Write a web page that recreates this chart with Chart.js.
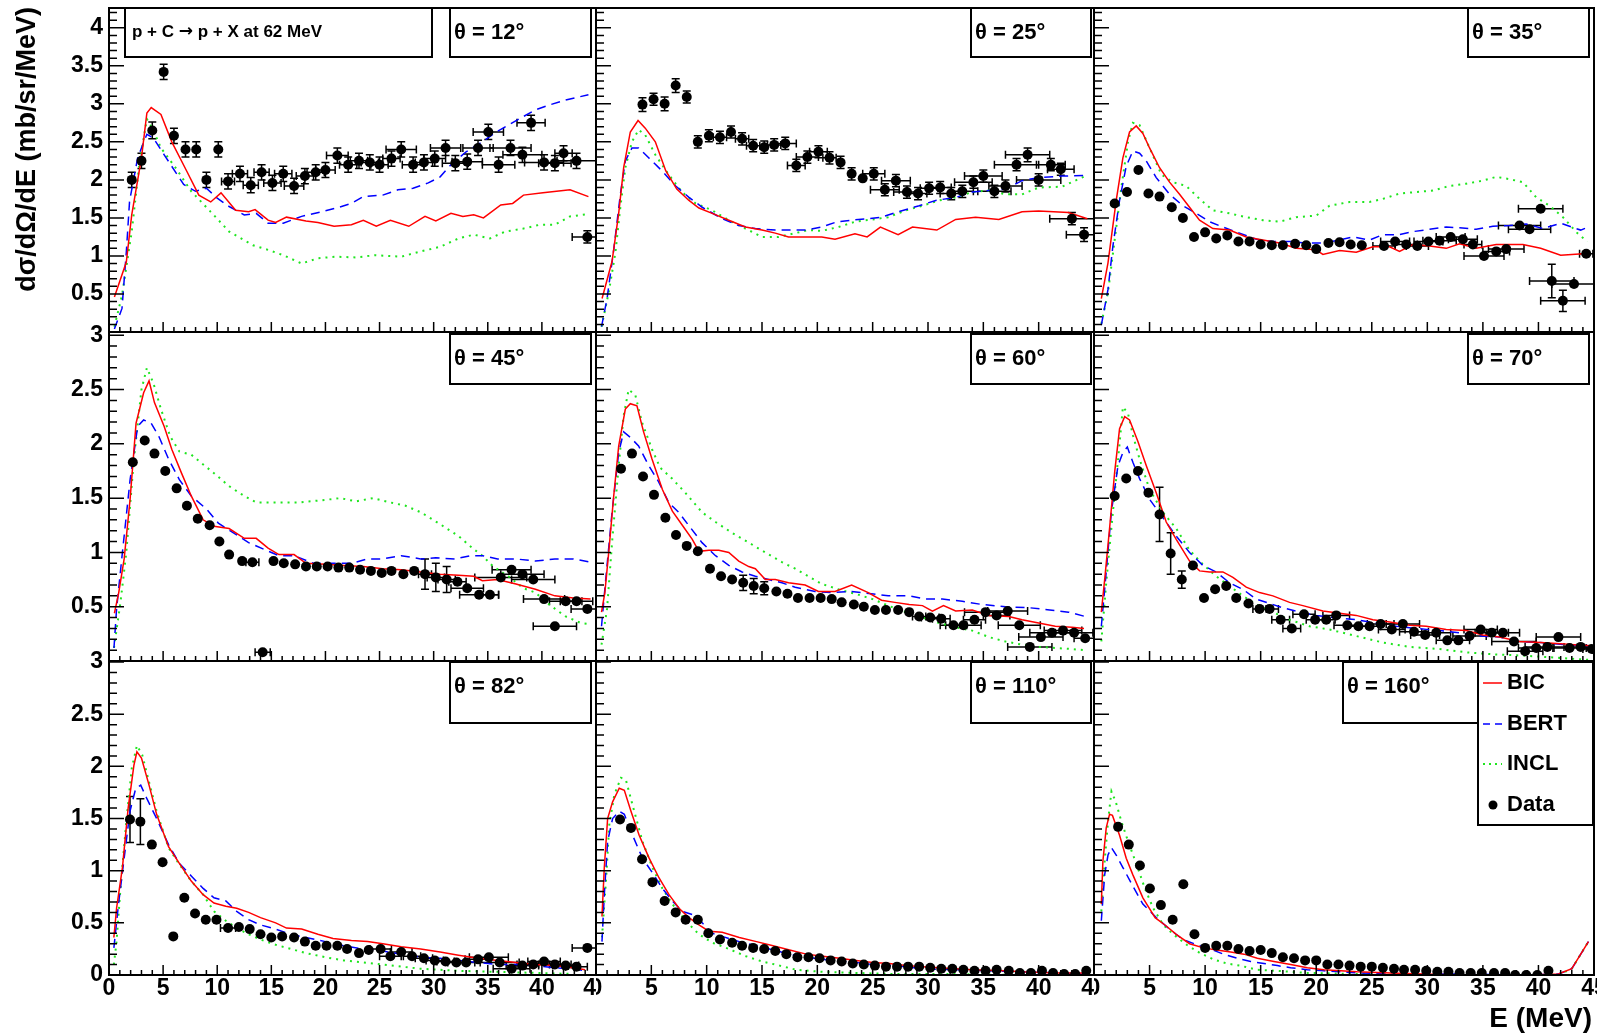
<!DOCTYPE html>
<html>
<head>
<meta charset="utf-8">
<script src="https://cdn.jsdelivr.net/npm/chart.js@4.4.1/dist/chart.umd.min.js"></script>
<style>
  html, body { margin: 0; padding: 0; background: #fff; }
  #page { position: relative; width: 1597px; height: 1033px; overflow: hidden; background: #fff; }
  #page canvas { position: absolute; }
</style>
</head>
<body>
<div id="page"></div>
<script>
// ---- values: [E, value] for model curves, [E, value, xErr, yErr] for data ----
const thetaLabels = ['θ = 12°', 'θ = 25°', 'θ = 35°', 'θ = 45°', 'θ = 60°', 'θ = 70°', 'θ = 82°', 'θ = 110°', 'θ = 160°'];
const seriesNames = ['BIC', 'BERT', 'INCL', 'Data'];
const yMaxByRow = [4.26, 3.03, 3.01];
const eRange = [0, 45];

const bic12 = [[0.5,0.46],[1.6,0.92],[2.1,1.54],[3.0,2.29],[3.5,2.88],[3.9,2.95],[4.8,2.86],[5.8,2.5],[7.2,2.11],[8.3,1.8],[9.4,1.71],[10.35,1.83],[11.7,1.6],[12.9,1.58],[13.5,1.61],[14.7,1.47],[15.4,1.44],[16.4,1.51],[18.2,1.46],[19.3,1.44],[20.8,1.39],[22.4,1.41],[23.5,1.47],[24.7,1.39],[26.0,1.47],[27.7,1.39],[29.2,1.52],[30.2,1.46],[31.6,1.56],[32.7,1.52],[33.7,1.54],[34.6,1.5],[36.2,1.67],[37.3,1.69],[38.3,1.8],[40.1,1.83],[42.6,1.87],[44.3,1.78]];
const bert12 = [[0.5,0.04],[1.2,0.31],[1.6,1.05],[1.9,1.72],[2.65,2.29],[3.5,2.6],[4.1,2.55],[5.1,2.33],[6.9,1.94],[8.0,1.85],[9.0,1.89],[10.0,1.76],[11.1,1.65],[12.5,1.54],[13.6,1.56],[14.7,1.43],[16.1,1.43],[17.8,1.52],[19.6,1.58],[21.0,1.63],[22.4,1.69],[23.5,1.78],[25.3,1.8],[26.7,1.87],[28.1,1.89],[29.5,1.96],[30.6,2.04],[31.6,2.2],[33.0,2.37],[34.5,2.5],[35.9,2.64],[37.5,2.77],[39.4,2.92],[40.8,2.99],[42.2,3.05],[44.3,3.12]];
const incl12 = [[0.5,0.07],[1.2,0.48],[2.1,1.32],[2.8,2.2],[3.5,2.8],[4.0,2.68],[4.8,2.42],[6.2,2.15],[7.6,1.85],[9.4,1.58],[11.1,1.32],[13.3,1.14],[14.7,1.08],[16.1,1.01],[17.8,0.9],[19.3,0.97],[21.0,0.99],[22.8,0.98],[24.6,1.01],[27.0,0.99],[28.8,1.06],[30.6,1.12],[32.3,1.23],[33.7,1.28],[35.2,1.23],[36.6,1.32],[38.3,1.36],[39.8,1.41],[41.2,1.41],[42.6,1.52],[44.3,1.55]];
const data12 = [[2.1,2.0,0.5,0.1],[3.0,2.25,0.5,0.1],[4.0,2.65,0.5,0.11],[5.05,3.42,0.5,0.1],[6.0,2.58,0.5,0.1],[7.07,2.4,0.5,0.1],[8.06,2.4,0.5,0.1],[9.0,2.0,0.5,0.1],[10.1,2.4,0.5,0.1],[11.0,1.98,0.6,0.1],[12.1,2.08,0.7,0.1],[13.1,1.93,0.7,0.1],[14.1,2.1,0.7,0.1],[15.1,1.96,0.8,0.1],[16.1,2.08,0.8,0.1],[17.1,1.92,0.9,0.1],[18.1,2.05,0.8,0.1],[19.1,2.1,0.8,0.1],[20.0,2.13,0.9,0.1],[21.1,2.32,1.0,0.1],[22.1,2.2,0.8,0.1],[23.1,2.25,0.8,0.1],[24.1,2.23,0.8,0.1],[25.0,2.2,0.8,0.1],[26.1,2.28,0.8,0.1],[27.0,2.4,1.4,0.1],[28.1,2.2,1.0,0.1],[29.1,2.23,0.8,0.1],[30.1,2.28,1.0,0.1],[31.1,2.42,1.4,0.1],[32.0,2.22,1.2,0.1],[33.1,2.24,1.4,0.1],[34.1,2.42,1.4,0.1],[35.05,2.63,1.4,0.1],[36.0,2.2,1.5,0.1],[37.1,2.42,1.9,0.1],[38.2,2.33,1.8,0.1],[39.0,2.75,1.3,0.1],[40.2,2.23,1.8,0.1],[41.2,2.22,1.5,0.1],[42.0,2.35,0.8,0.1],[43.2,2.25,1.8,0.1],[44.2,1.25,1.4,0.08]];

const bic25 = [[0.55,0.44],[1.45,0.93],[2.05,1.56],[2.5,2.16],[3.1,2.63],[3.8,2.78],[4.45,2.68],[5.36,2.5],[6.3,2.12],[7.3,1.88],[8.4,1.73],[9.3,1.63],[10.5,1.56],[12.0,1.47],[13.5,1.38],[15.0,1.34],[16.2,1.3],[17.4,1.25],[18.9,1.25],[20.4,1.25],[21.6,1.22],[23.4,1.29],[24.5,1.25],[25.7,1.38],[27.3,1.28],[28.6,1.38],[30.8,1.34],[32.5,1.48],[34.3,1.51],[36.4,1.48],[38.5,1.58],[40.0,1.59],[42.7,1.57],[44.4,1.49]];
const bert25 = [[0.5,0.07],[1.0,0.44],[1.6,1.08],[2.2,1.81],[2.65,2.25],[3.25,2.42],[3.85,2.42],[4.76,2.29],[5.96,2.12],[7.2,1.92],[8.4,1.77],[9.6,1.64],[11.4,1.49],[12.9,1.4],[14.4,1.36],[16.2,1.34],[17.7,1.34],[18.9,1.34],[20.4,1.38],[21.8,1.45],[23.1,1.47],[24.6,1.49],[25.8,1.51],[27.3,1.58],[29.2,1.66],[30.7,1.73],[32.5,1.77],[34.0,1.84],[35.5,1.86],[37.0,1.88],[38.5,1.99],[40.0,2.03],[42.1,2.05],[44.2,2.06]];
const incl25 = [[0.5,0.07],[1.15,0.52],[1.75,1.04],[2.2,1.64],[2.65,2.16],[3.25,2.5],[3.85,2.66],[4.45,2.59],[5.36,2.33],[6.57,2.07],[7.77,1.84],[9.0,1.69],[10.5,1.6],[12.0,1.47],[13.5,1.36],[15.0,1.25],[16.5,1.25],[18.0,1.3],[19.2,1.34],[20.4,1.33],[21.9,1.38],[23.4,1.45],[25.0,1.48],[26.4,1.51],[28.0,1.6],[29.5,1.66],[31.0,1.73],[32.5,1.77],[34.0,1.84],[35.5,1.86],[37.0,1.81],[38.5,1.81],[40.0,1.9],[42.1,1.91],[44.2,2.05]];
const data25 = [[4.2,2.99,0.5,0.09],[5.2,3.06,0.5,0.08],[6.2,3.0,0.5,0.09],[7.2,3.24,0.5,0.09],[8.2,3.09,0.5,0.08],[9.2,2.5,0.5,0.08],[10.2,2.58,0.5,0.08],[11.2,2.56,0.6,0.08],[12.2,2.63,0.5,0.08],[13.2,2.54,0.6,0.08],[14.2,2.45,0.6,0.08],[15.2,2.43,0.5,0.08],[16.1,2.46,0.6,0.08],[17.1,2.48,1.0,0.08],[18.1,2.19,0.8,0.08],[19.1,2.3,1.0,0.08],[20.1,2.37,0.8,0.08],[21.1,2.29,0.6,0.08],[22.1,2.23,0.5,0.08],[23.1,2.08,0.5,0.08],[24.1,2.02,0.5,0.07],[25.1,2.08,1.0,0.08],[26.1,1.87,1.3,0.08],[27.1,1.99,1.3,0.08],[28.1,1.84,1.2,0.08],[29.1,1.82,0.8,0.08],[30.1,1.89,0.8,0.08],[31.1,1.9,1.0,0.08],[32.1,1.82,1.0,0.08],[33.1,1.85,1.0,0.08],[34.1,1.97,1.7,0.08],[35.0,2.05,1.7,0.08],[36.0,1.85,1.5,0.08],[37.0,1.92,1.5,0.08],[38.0,2.2,2.0,0.08],[39.0,2.33,2.0,0.09],[40.0,2.0,2.0,0.08],[41.1,2.2,1.3,0.08],[42.0,2.14,1.2,0.08],[43.0,1.49,2.0,0.08],[44.1,1.28,1.6,0.09]];

const bic35 = [[0.66,0.44],[1.26,0.91],[2.0,1.73],[2.6,2.29],[3.2,2.63],[3.8,2.71],[4.4,2.61],[5.0,2.42],[5.9,2.16],[6.8,1.97],[7.7,1.81],[8.6,1.64],[9.5,1.47],[10.7,1.36],[12.2,1.34],[13.7,1.25],[15.2,1.21],[16.7,1.17],[18.2,1.1],[20.0,1.08],[20.6,1.02],[22.1,1.07],[23.6,1.05],[25.1,1.12],[26.6,1.12],[27.5,1.06],[28.7,1.15],[30.2,1.13],[31.7,1.1],[32.9,1.16],[34.4,1.1],[36.2,1.15],[38.6,1.15],[40.2,1.1],[42.0,1.01],[44.0,1.03]];
const bert35 = [[0.66,0.09],[1.26,0.56],[1.7,1.13],[2.3,1.73],[2.9,2.18],[3.5,2.38],[4.1,2.35],[4.7,2.25],[5.6,2.03],[6.8,1.81],[8.0,1.66],[9.2,1.56],[10.4,1.45],[11.6,1.38],[13.1,1.3],[14.6,1.22],[16.1,1.19],[17.6,1.19],[19.1,1.17],[20.6,1.17],[22.1,1.21],[23.3,1.25],[24.8,1.21],[26.0,1.28],[27.5,1.28],[28.7,1.32],[30.2,1.35],[31.7,1.38],[32.9,1.37],[34.4,1.35],[35.9,1.39],[37.4,1.4],[38.9,1.42],[40.4,1.36],[42.0,1.43],[43.8,1.34],[44.5,1.38]];
const incl35 = [[0.66,0.11],[1.26,0.52],[1.86,1.21],[2.46,1.9],[3.06,2.5],[3.5,2.75],[4.1,2.72],[5.0,2.42],[6.07,2.07],[7.1,1.97],[8.3,1.92],[9.5,1.75],[10.7,1.6],[12.2,1.56],[13.7,1.51],[15.2,1.47],[16.7,1.45],[18.2,1.51],[20.0,1.53],[21.2,1.66],[23.0,1.71],[24.8,1.71],[26.0,1.75],[27.5,1.82],[29.0,1.84],[30.5,1.86],[32.0,1.92],[33.5,1.95],[35.0,1.99],[36.2,2.04],[37.4,2.01],[38.6,1.97],[39.8,1.77],[41.0,1.66],[42.2,1.51],[43.5,1.3],[44.4,1.19]];
const data35 = [[1.86,1.69],[2.97,1.84],[4.0,2.13],[4.9,1.82],[5.9,1.78],[7.0,1.64],[8.0,1.5],[9.0,1.25],[10.0,1.31],[11.0,1.23],[12.0,1.27],[13.0,1.19],[14.0,1.19],[15.0,1.15],[16.0,1.14],[17.0,1.14],[18.1,1.16],[19.1,1.14],[20.0,1.09],[21.1,1.17],[22.1,1.18],[23.1,1.15],[24.1,1.14],[26.1,1.13,1.0],[27.1,1.19,1.3],[28.1,1.15,1.0],[29.1,1.13,1.0],[30.1,1.19,1.3],[31.1,1.2,1.5],[32.1,1.25,1.3],[33.2,1.22,1.3],[34.1,1.15,0.8],[35.1,1.0,1.8],[36.2,1.06,1.2],[37.1,1.09,1.6],[38.3,1.4,1.9,0.05],[39.2,1.35,1.9],[40.2,1.62,2.0,0.06],[41.2,0.67,2.0,0.22],[42.2,0.41,2.0,0.14],[43.2,0.63,2.0],[44.3,1.03,0.6]];

const bic45 = [[0.5,0.44],[0.9,0.63],[1.4,0.94],[1.95,1.49],[2.5,2.19],[3.2,2.47],[3.7,2.58],[4.2,2.38],[5.1,2.16],[5.8,1.95],[6.7,1.73],[7.6,1.52],[8.7,1.3],[9.7,1.24],[11.1,1.22],[12.5,1.13],[13.6,1.13],[14.7,1.04],[15.7,0.98],[17.1,0.98],[18.2,0.9],[20.0,0.89],[21.7,0.88],[23.5,0.87],[25.3,0.85],[27.0,0.84],[28.8,0.82],[30.6,0.8],[32.3,0.79],[33.7,0.78],[34.5,0.74],[35.9,0.75],[37.6,0.71],[39.4,0.66],[41.2,0.6],[42.9,0.58],[44.5,0.57]];
const bert45 = [[0.46,0.12],[0.7,0.48],[1.24,1.0],[1.95,1.67],[2.65,2.16],[3.2,2.22],[3.9,2.19],[4.6,2.07],[5.5,1.86],[6.5,1.67],[7.6,1.52],[9.0,1.4],[10.1,1.27],[11.5,1.18],[12.9,1.09],[14.3,1.03],[15.7,0.97],[17.1,0.97],[18.9,0.9],[20.7,0.9],[22.4,0.9],[23.9,0.94],[25.3,0.94],[27.0,0.97],[28.8,0.94],[30.2,0.95],[32.0,0.94],[33.4,0.97],[34.5,0.97],[35.9,0.94],[37.6,0.94],[39.4,0.92],[41.2,0.94],[42.9,0.94],[44.5,0.91]];
const incl45 = [[0.46,0.12],[1.06,0.54],[1.6,1.0],[2.3,1.86],[3.0,2.5],[3.5,2.7],[4.1,2.56],[4.8,2.32],[5.65,2.07],[6.5,1.93],[7.6,1.9],[8.7,1.81],[9.7,1.73],[11.1,1.61],[12.5,1.52],[13.6,1.46],[15.4,1.46],[17.5,1.46],[19.6,1.48],[21.4,1.5],[22.8,1.47],[24.4,1.5],[26.0,1.46],[27.4,1.43],[28.8,1.37],[30.6,1.26],[32.3,1.15],[33.7,1.03],[34.5,0.97],[35.5,0.87],[36.9,0.78],[38.3,0.67],[39.4,0.63],[40.8,0.51],[42.2,0.41],[43.6,0.35],[44.5,0.34]];
const data45 = [[2.2,1.83],[3.3,2.03],[4.2,1.91],[5.2,1.75],[6.25,1.59],[7.2,1.43],[8.2,1.31],[9.3,1.25],[10.2,1.1],[11.1,0.98],[12.3,0.92],[13.25,0.91,0.6],[14.2,0.08,0.7,0.02],[15.2,0.92],[16.15,0.9],[17.2,0.89],[18.2,0.87],[19.2,0.87],[20.2,0.87],[21.2,0.86],[22.2,0.86],[23.2,0.84],[24.2,0.83],[25.2,0.81],[26.1,0.83],[27.2,0.8],[28.2,0.83],[29.2,0.8,0.6,0.14],[30.2,0.77,0.8,0.13],[31.2,0.75,0.8,0.12],[32.2,0.73,0.8],[33.1,0.67,1.5],[34.2,0.61,1.8],[35.2,0.61,0.8],[36.2,0.77,2.4],[37.2,0.84,1.8],[38.2,0.8,2.0],[39.2,0.75,2.0],[40.2,0.57,1.9],[41.2,0.32,2.0],[42.2,0.55,1.5],[43.2,0.55,1.5],[44.2,0.48,1.5]];

const bic60 = [[0.5,0.45],[0.8,0.63],[1.15,1.0],[1.6,1.52],[2.05,1.98],[2.65,2.32],[3.1,2.37],[3.7,2.35],[4.3,2.11],[5.06,1.86],[6.0,1.58],[6.9,1.38],[7.8,1.25],[8.7,1.12],[9.3,1.01],[10.2,1.02],[11.1,1.02],[12.0,1.0],[12.9,0.92],[13.8,0.87],[14.4,0.85],[15.3,0.75],[16.2,0.75],[17.4,0.72],[18.9,0.7],[20.1,0.64],[21.6,0.64],[23.1,0.7],[24.6,0.63],[25.8,0.56],[27.0,0.54],[28.3,0.52],[29.5,0.51],[30.4,0.46],[31.4,0.51],[32.5,0.46],[34.0,0.47],[35.5,0.42],[37.3,0.41],[38.5,0.38],[40.0,0.35],[41.5,0.32],[43.0,0.31],[44.1,0.3]];
const bert60 = [[0.5,0.32],[0.85,0.72],[1.45,1.37],[2.05,1.92],[2.5,2.11],[3.1,2.06],[3.85,1.98],[4.76,1.8],[5.66,1.65],[6.57,1.46],[7.47,1.37],[8.37,1.25],[9.58,1.09],[10.8,0.97],[12.0,0.88],[13.2,0.82],[14.4,0.78],[15.6,0.75],[16.8,0.72],[18.0,0.68],[19.8,0.64],[21.3,0.63],[23.1,0.64],[24.9,0.62],[26.4,0.6],[28.3,0.6],[29.8,0.57],[31.3,0.57],[33.1,0.55],[34.9,0.52],[37.0,0.5],[39.2,0.49],[41.0,0.47],[42.7,0.45],[44.2,0.41]];
const incl60 = [[0.5,0.15],[1.0,0.48],[1.45,1.09],[2.05,1.8],[2.5,2.26],[2.95,2.5],[3.55,2.45],[4.15,2.2],[5.06,1.95],[5.8,1.78],[6.87,1.68],[8.07,1.55],[9.58,1.37],[10.8,1.28],[12.3,1.18],[13.8,1.09],[15.3,1.0],[16.8,0.91],[18.0,0.85],[19.2,0.78],[20.4,0.71],[21.9,0.66],[23.4,0.62],[25.0,0.57],[26.4,0.51],[28.0,0.45],[29.5,0.4],[31.0,0.35],[32.5,0.31],[34.0,0.28],[35.5,0.22],[37.0,0.18],[38.5,0.15],[40.0,0.13],[41.5,0.12],[43.0,0.11],[44.2,0.1]];
const data60 = [[2.26,1.77],[3.25,1.91],[4.25,1.7],[5.24,1.53],[6.27,1.32],[7.23,1.16],[8.2,1.06],[9.2,1.01],[10.3,0.85,0.5,0.04],[11.3,0.78,0.5,0.04],[12.3,0.75,0.5,0.04],[13.3,0.72,0.5,0.07],[14.25,0.69,0.5,0.07],[15.2,0.67,0.5,0.06],[16.3,0.64,0.5,0.05],[17.3,0.62,0.5,0.05],[18.25,0.58],[19.3,0.58],[20.3,0.58],[21.3,0.57],[22.2,0.54],[23.3,0.52],[24.2,0.5],[25.2,0.47],[26.2,0.47],[27.3,0.47],[28.3,0.45],[29.2,0.41,0.6],[30.2,0.4,0.8],[31.2,0.39,0.8],[32.3,0.33,1.2],[33.2,0.33,1.6],[34.2,0.38,1.0],[35.2,0.45,1.9],[36.2,0.42,1.2],[37.2,0.46,1.8],[38.25,0.33,1.9],[39.2,0.13,2.0],[40.2,0.22,2.0],[41.2,0.26,2.0],[42.2,0.28,1.7],[43.2,0.26,1.7],[44.2,0.21,1.0]];

const bic70 = [[0.66,0.45],[0.96,0.75],[1.4,1.22],[1.86,1.74],[2.3,2.14],[2.76,2.25],[3.2,2.22],[3.96,2.02],[4.7,1.8],[5.6,1.55],[6.5,1.28],[7.4,1.12],[8.6,0.92],[9.5,0.83],[10.4,0.82],[11.6,0.82],[12.5,0.77],[13.7,0.68],[14.9,0.63],[16.1,0.6],[17.6,0.54],[18.8,0.51],[20.6,0.46],[22.1,0.44],[23.6,0.42],[25.1,0.38],[26.6,0.36],[28.4,0.33],[29.9,0.32],[31.7,0.29],[33.5,0.28],[35.0,0.24],[36.5,0.22],[38.3,0.18],[40.2,0.17],[42.0,0.16],[43.2,0.15],[44.8,0.14]];
const bert70 = [[0.66,0.32],[1.1,0.82],[1.56,1.37],[2.16,1.8],[2.6,1.92],[3.0,1.97],[3.5,1.83],[4.1,1.68],[5.0,1.49],[6.2,1.32],[7.4,1.15],[8.6,1.0],[9.8,0.88],[11.0,0.82],[12.2,0.72],[13.4,0.66],[14.6,0.57],[15.8,0.53],[17.0,0.49],[18.5,0.45],[20.0,0.42],[21.5,0.4],[23.6,0.38],[25.4,0.35],[27.2,0.32],[29.0,0.3],[31.1,0.28],[32.9,0.26],[34.7,0.23],[36.5,0.22],[38.3,0.18],[40.2,0.17],[42.3,0.15],[44.6,0.14]];
const incl70 = [[0.66,0.18],[1.1,0.72],[1.7,1.37],[2.3,2.0],[2.6,2.34],[3.06,2.28],[3.5,2.08],[4.1,1.86],[5.0,1.58],[6.2,1.37],[7.4,1.22],[8.6,1.02],[9.8,0.89],[11.0,0.78],[12.2,0.69],[13.4,0.6],[14.6,0.52],[16.1,0.45],[17.6,0.38],[19.4,0.32],[21.2,0.29],[23.6,0.23],[26.0,0.17],[28.4,0.13],[31.1,0.11],[33.5,0.08],[36.2,0.06],[38.6,0.05],[41.7,0.03],[44.6,0.01]];
const data70 = [[1.86,1.52],[2.9,1.68,0.5,0.05],[3.96,1.75,0.5,0.05],[4.9,1.55],[5.9,1.35,0.5,0.25],[6.9,0.99,0.5,0.19],[7.9,0.75,0.5,0.08],[8.9,0.88],[9.9,0.58],[10.9,0.66],[11.9,0.69],[12.8,0.58],[13.9,0.53],[14.9,0.48,0.6],[15.8,0.48,0.8],[16.8,0.38,0.8],[17.8,0.3,0.8],[18.9,0.43,1.0],[19.9,0.38,0.8],[20.9,0.38,0.8],[21.8,0.42,1.2],[22.8,0.33,1.2],[23.8,0.32,1.2],[24.8,0.32,1.0],[25.8,0.34,1.2],[26.8,0.29,1.2],[27.8,0.34,1.5],[28.8,0.27,1.3],[29.8,0.24,1.3],[30.8,0.26,1.3],[31.8,0.19,1.0],[32.8,0.19,1.0],[33.8,0.23,1.5],[34.8,0.29,1.5],[35.8,0.26,1.5],[36.8,0.26,1.5],[37.8,0.18,2.0],[38.8,0.09,1.6],[39.8,0.12,1.6],[40.8,0.13,2.0],[41.8,0.22,2.0],[42.8,0.12,1.5],[43.8,0.13,1.5],[44.8,0.11,0.8]];

const bic82 = [[0.45,0.36],[0.7,0.64],[1.24,1.03],[1.77,1.6],[2.3,2.01],[2.58,2.14],[3.0,2.08],[3.7,1.82],[4.4,1.54],[5.5,1.23],[6.5,1.07],[7.6,0.9],[8.7,0.77],[9.7,0.69],[10.8,0.66],[11.8,0.64],[12.9,0.6],[14.0,0.55],[15.4,0.5],[16.4,0.45],[17.8,0.44],[19.3,0.39],[20.7,0.35],[22.4,0.33],[23.9,0.32],[25.3,0.3],[27.0,0.27],[28.8,0.25],[30.6,0.22],[32.3,0.19],[34.1,0.16],[35.9,0.14],[37.6,0.12],[39.4,0.1],[41.2,0.09],[42.9,0.07],[44.0,0.05]];
const bert82 = [[0.45,0.26],[0.88,0.68],[1.4,1.12],[1.94,1.57],[2.47,1.79],[2.93,1.82],[3.5,1.69],[4.4,1.5],[5.5,1.25],[6.5,1.07],[7.6,0.95],[8.7,0.83],[9.7,0.74],[10.8,0.71],[11.8,0.61],[12.9,0.53],[14.0,0.48],[15.4,0.44],[16.8,0.39],[18.2,0.36],[20.0,0.32],[21.7,0.28],[23.5,0.25],[25.3,0.23],[27.0,0.2],[28.8,0.17],[30.6,0.16],[32.3,0.14],[34.1,0.12],[35.9,0.1],[37.6,0.1],[39.4,0.09],[41.2,0.07],[42.9,0.06],[44.0,0.04]];
const incl82 = [[0.45,0.1],[0.7,0.32],[1.06,0.83],[1.6,1.47],[2.1,1.98],[2.58,2.2],[3.07,2.11],[3.7,1.85],[4.4,1.57],[5.5,1.22],[6.5,1.06],[7.6,0.9],[8.7,0.77],[9.7,0.61],[10.8,0.52],[11.8,0.45],[12.9,0.39],[14.0,0.34],[15.4,0.29],[16.8,0.25],[18.2,0.21],[20.0,0.17],[21.7,0.14],[23.5,0.12],[25.3,0.1],[27.0,0.08],[28.8,0.06],[30.6,0.05],[32.3,0.04],[35.9,0.03],[39.4,0.02],[42.9,0.01]];
const data82 = [[1.94,1.49,0.5,0.22],[2.9,1.47,0.5,0.22],[3.96,1.25],[4.95,1.08],[5.94,0.37],[6.96,0.74],[7.95,0.59],[8.94,0.53],[9.93,0.53],[11.0,0.45,0.7],[12.0,0.46],[13.0,0.44],[14.0,0.39],[15.0,0.36],[16.0,0.37],[17.1,0.36],[18.1,0.32],[19.1,0.28],[20.1,0.28],[21.1,0.28],[22.0,0.25],[23.1,0.21],[24.0,0.24],[25.1,0.25,1.0],[26.0,0.18,1.0],[27.0,0.22,1.0],[28.0,0.18,0.8],[29.1,0.16,0.8],[30.1,0.14,0.8],[31.1,0.13,0.8],[32.1,0.12,0.8],[33.0,0.12,0.8],[34.1,0.15,1.2],[35.1,0.17,1.8],[36.1,0.12,1.8],[37.2,0.06,1.7],[38.2,0.09,1.5],[39.2,0.1,1.5],[40.2,0.13,1.5],[41.2,0.1,1.5],[42.2,0.09,1.2],[43.2,0.08,1.0],[44.2,0.26,1.4]];

const bic110 = [[0.54,0.56],[0.75,1.03],[1.05,1.5],[1.5,1.66],[2.1,1.79],[2.56,1.77],[3.16,1.57],[3.9,1.34],[4.8,1.12],[5.7,0.93],[6.6,0.77],[7.5,0.64],[8.4,0.55],[9.3,0.48],[10.2,0.42],[11.4,0.41],[12.95,0.36],[14.5,0.32],[16.0,0.28],[17.5,0.24],[19.0,0.2],[20.5,0.18],[22.0,0.16],[23.5,0.14],[25.0,0.12],[26.5,0.11],[28.0,0.09],[29.5,0.08],[31.0,0.07],[32.5,0.06],[34.0,0.05],[35.5,0.045],[37.0,0.04],[38.5,0.03],[41.6,0.02],[44.3,0.02]];
const bert110 = [[0.54,0.32],[0.75,0.77],[1.05,1.28],[1.5,1.5],[2.1,1.57],[2.56,1.54],[3.3,1.34],[4.2,1.12],[5.1,0.98],[6.0,0.83],[6.9,0.71],[7.8,0.61],[8.7,0.58],[9.6,0.5],[10.5,0.4],[11.4,0.37],[12.95,0.32],[14.5,0.28],[16.0,0.24],[17.5,0.2],[19.0,0.17],[20.5,0.15],[22.0,0.13],[23.5,0.12],[25.0,0.1],[26.5,0.09],[28.0,0.08],[29.5,0.06],[32.5,0.05],[35.5,0.04],[38.5,0.03],[41.6,0.02],[44.3,0.01]];
const incl110 = [[0.54,0.36],[0.9,0.9],[1.2,1.44],[1.66,1.73],[2.26,1.89],[2.7,1.87],[3.3,1.63],[4.2,1.28],[5.1,1.03],[6.0,0.83],[6.9,0.68],[8.1,0.52],[9.3,0.39],[10.5,0.31],[12.0,0.25],[13.55,0.18],[15.0,0.13],[16.6,0.09],[18.1,0.05],[20.5,0.03],[23.5,0.02],[26.5,0.01],[32.5,0.01],[38.5,0.0],[44.3,0.0]];
const data110 = [[2.17,1.49],[3.16,1.41],[4.16,1.11],[5.1,0.89],[6.2,0.71],[7.2,0.6],[8.1,0.53],[9.2,0.53],[10.15,0.4],[11.2,0.34],[12.3,0.31],[13.2,0.28],[14.2,0.26],[15.2,0.25],[16.2,0.23],[17.2,0.2],[18.2,0.17],[19.2,0.17],[20.2,0.16],[21.2,0.14],[22.2,0.13],[23.2,0.11],[24.2,0.1],[25.2,0.09],[26.2,0.08],[27.2,0.08],[28.2,0.08],[29.2,0.08],[30.2,0.07],[31.2,0.06],[32.2,0.06],[33.2,0.05],[34.2,0.04],[35.2,0.04],[36.2,0.05],[37.3,0.04],[38.3,0.02],[39.3,0.02],[40.3,0.04],[41.3,0.02],[42.3,0.01],[43.3,0.01],[44.3,0.04]];

const bic160 = [[0.66,0.68],[0.8,1.09],[1.1,1.41],[1.4,1.54],[1.66,1.53],[1.96,1.44],[2.3,1.34],[2.9,1.12],[3.5,0.96],[4.4,0.74],[5.5,0.55],[6.5,0.47],[7.4,0.39],[8.6,0.3],[9.85,0.26],[11.05,0.24],[12.3,0.22],[13.5,0.2],[14.7,0.16],[16.2,0.13],[17.7,0.1],[19.2,0.07],[20.7,0.05],[22.2,0.04],[23.7,0.03],[26.7,0.02],[29.7,0.01],[32.7,0.0],[38.8,0.0],[41.8,0.01],[43.0,0.06],[44.5,0.32]];
const bert160 = [[0.66,0.52],[0.96,0.96],[1.26,1.15],[1.57,1.22],[2.0,1.15],[2.6,1.03],[3.4,0.87],[4.4,0.68],[5.6,0.55],[6.8,0.44],[8.0,0.34],[9.25,0.29],[10.45,0.25],[11.65,0.2],[12.9,0.16],[14.1,0.13],[15.3,0.11],[16.5,0.09],[17.7,0.07],[19.2,0.05],[20.7,0.04],[23.7,0.02],[26.7,0.01],[32.7,0.01],[38.8,0.0],[41.8,0.01],[43.0,0.06],[44.5,0.32]];
const incl160 = [[0.66,0.61],[0.96,1.09],[1.26,1.47],[1.57,1.76],[1.96,1.66],[2.47,1.47],[3.07,1.28],[3.83,1.06],[4.58,0.83],[5.33,0.64],[6.23,0.48],[7.14,0.39],[8.34,0.29],[9.55,0.21],[10.75,0.15],[11.95,0.11],[13.16,0.09],[14.67,0.05],[16.5,0.04],[19.2,0.02],[23.7,0.01],[29.7,0.0],[38.8,0.0],[41.8,0.0],[43.0,0.06],[44.5,0.32]];
const data160 = [[2.17,1.42],[3.13,1.25],[4.13,1.05],[5.03,0.83],[6.02,0.67],[7.08,0.53],[8.04,0.87],[9.04,0.39],[10.0,0.26],[11.0,0.28],[12.0,0.28],[13.0,0.25],[14.0,0.23],[15.0,0.24],[16.0,0.21],[17.0,0.17],[18.0,0.16],[19.0,0.14],[20.0,0.14],[21.0,0.1],[22.0,0.1],[23.0,0.09],[24.0,0.08],[25.0,0.08],[26.0,0.07],[27.0,0.06],[27.9,0.05],[28.9,0.05],[29.9,0.04],[30.9,0.03],[31.9,0.03],[32.9,0.02],[33.9,0.02],[34.9,0.02],[36.0,0.02],[37.0,0.02],[37.9,0.0],[38.9,0.0],[39.9,0.0],[40.9,0.04]];

const panels = [
  { bic: bic12,  bert: bert12,  incl: incl12,  data: data12 },
  { bic: bic25,  bert: bert25,  incl: incl25,  data: data25 },
  { bic: bic35,  bert: bert35,  incl: incl35,  data: data35 },
  { bic: bic45,  bert: bert45,  incl: incl45,  data: data45 },
  { bic: bic60,  bert: bert60,  incl: incl60,  data: data60 },
  { bic: bic70,  bert: bert70,  incl: incl70,  data: data70 },
  { bic: bic82,  bert: bert82,  incl: incl82,  data: data82 },
  { bic: bic110, bert: bert110, incl: incl110, data: data110 },
  { bic: bic160, bert: bert160, incl: incl160, data: data160 }
];

// ---- layout (page pixels) ----
const colCanvas = [[0, 596], [596, 1094], [1094, 1597]];
const colFrame  = [[109, 596], [596, 1094], [1094, 1594]];
const rowCanvas = [[0, 332], [332, 661], [661, 1033]];
const rowFrame  = [[8, 332], [332, 661], [661, 975]];
const labelOverhang = 10;   // left-column pads reach up a little so the top "3" label is not cut
const thetaBoxX = [[450, 591], [971, 1091], [1468, 1589]];
const thetaBoxY = [[8, 57], [334, 384], [662, 723]];
const lastThetaBox = [1343, 662, 1478, 723];
const legendBox = [1478, 662, 1593, 825];
const reactionBox = [125, 8, 432, 57];

const FONT = "'Liberation Sans', Arial, Helvetica, sans-serif";
const RED = '#ff0000', BLUE = '#0000ff', GREEN = '#1fe51f';
const MARKER_R = 5, CAP = 4;

Chart.defaults.font.family = FONT;
Chart.defaults.font.weight = 'bold';
Chart.defaults.font.size = 23;
Chart.defaults.color = '#000';

function box(ctx, l, t, r, b) {
  ctx.fillStyle = '#fff';
  ctx.fillRect(l, t, r - l, b - t);
  ctx.strokeStyle = '#000';
  ctx.lineWidth = 2;
  ctx.strokeRect(l, t, r - l, b - t);
}

function rootPad(idx, row, col, ox, oy, yMax) {
  const p = panels[idx];
  return {
    id: 'rootPad' + idx,
    beforeDatasetsDraw(chart) {
      const { ctx, chartArea: a } = chart;
      const xs = chart.scales.x, ys = chart.scales.y;
      ctx.save();
      ctx.beginPath();
      ctx.rect(a.left, a.top, a.right - a.left, a.bottom - a.top);
      ctx.clip();
      ctx.strokeStyle = '#000';
      ctx.lineWidth = 1.5;
      p.data.forEach(d => {
        const ex = d[2] ?? 0.5, ey = d[3] ?? 0.03;
        const px = xs.getPixelForValue(d[0]), py = ys.getPixelForValue(d[1]);
        const x0 = xs.getPixelForValue(d[0] - ex), x1 = xs.getPixelForValue(d[0] + ex);
        const y0 = ys.getPixelForValue(d[1] - ey), y1 = ys.getPixelForValue(d[1] + ey);
        ctx.beginPath();
        if (px - x0 > MARKER_R + 1) {
          ctx.moveTo(x0, py); ctx.lineTo(x1, py);
          ctx.moveTo(x0, py - CAP); ctx.lineTo(x0, py + CAP);
          ctx.moveTo(x1, py - CAP); ctx.lineTo(x1, py + CAP);
        }
        if (y0 - py > MARKER_R + 1) {
          ctx.moveTo(px, y0); ctx.lineTo(px, y1);
          ctx.moveTo(px - CAP, y0); ctx.lineTo(px + CAP, y0);
          ctx.moveTo(px - CAP, y1); ctx.lineTo(px + CAP, y1);
        }
        ctx.stroke();
      });
      ctx.restore();
    },
    afterDraw(chart) {
      const { ctx, chartArea: a } = chart;
      const xs = chart.scales.x, ys = chart.scales.y;
      ctx.save();
      // ticks inside the frame, left and bottom only
      ctx.strokeStyle = '#000';
      ctx.lineWidth = 1.5;
      ctx.beginPath();
      for (let k = 0; k <= Math.floor(yMax * 10 + 1e-6); k++) {
        const py = ys.getPixelForValue(k / 10);
        ctx.moveTo(a.left, py);
        ctx.lineTo(a.left + (k % 5 === 0 ? 15 : 8), py);
      }
      for (let e = eRange[0]; e <= eRange[1]; e++) {
        const px = xs.getPixelForValue(e);
        ctx.moveTo(px, a.bottom);
        ctx.lineTo(px, a.bottom - (e % 5 === 0 ? 10 : 5));
      }
      ctx.stroke();
      ctx.lineWidth = 2;
      ctx.strokeRect(a.left, a.top, a.right - a.left, a.bottom - a.top);

      // angle label
      const tb = idx === 8 ? lastThetaBox
        : [thetaBoxX[col][0], thetaBoxY[row][0], thetaBoxX[col][1], thetaBoxY[row][1]];
      box(ctx, tb[0] - ox, tb[1] - oy, tb[2] - ox, tb[3] - oy);
      ctx.fillStyle = '#000';
      ctx.font = 'bold 22px ' + FONT;
      ctx.textAlign = 'left';
      ctx.textBaseline = 'middle';
      ctx.fillText(thetaLabels[idx], tb[0] - ox + 4, tb[1] - oy + 25);

      if (idx === 0) {
        box(ctx, reactionBox[0], reactionBox[1], reactionBox[2], reactionBox[3]);
        ctx.fillStyle = '#000';
        let tx = 132;
        [['p + C ', FONT], ['→', "'DejaVu Sans', sans-serif"], [' p + X at 62 MeV', FONT]].forEach(([s, f]) => {
          ctx.font = 'bold 17px ' + f;
          ctx.fillText(s, tx, 32);
          tx += ctx.measureText(s).width;
        });
        ctx.save();
        ctx.translate(28, 7);
        ctx.rotate(-Math.PI / 2);
        ctx.textAlign = 'right';
        ctx.font = 'bold 27px ' + FONT;
        ctx.fillText('dσ/dΩ/dE (mb/sr/MeV)', 0, 0);
        ctx.restore();
      }

      if (idx === 8) {
        const l = legendBox[0] - ox, t = legendBox[1] - oy;
        box(ctx, l, t, legendBox[2] - ox, legendBox[3] - oy);
        const rows = [21, 62, 102, 143];
        const styles = [[RED, [], 1.5], [BLUE, [7, 5], 1.5], [GREEN, [2, 4], 2]];
        ctx.font = 'bold 22px ' + FONT;
        ctx.textAlign = 'left';
        rows.forEach((dy, i) => {
          const yy = t + dy;
          if (i < 3) {
            ctx.strokeStyle = styles[i][0];
            ctx.setLineDash(styles[i][1]);
            ctx.lineWidth = styles[i][2];
            ctx.beginPath();
            ctx.moveTo(l + 5, yy); ctx.lineTo(l + 24, yy);
            ctx.stroke();
            ctx.setLineDash([]);
          } else {
            ctx.fillStyle = '#000';
            ctx.beginPath();
            ctx.arc(l + 15, yy, 4.5, 0, Math.PI * 2);
            ctx.fill();
          }
          ctx.fillStyle = '#000';
          ctx.fillText(seriesNames[i], l + 29, yy);
        });
        ctx.textAlign = 'right';
        ctx.font = 'bold 28px ' + FONT;
        ctx.fillText('E (MeV)', 1592 - ox, 1019 - oy);
      }
      ctx.restore();
    }
  };
}

const page = document.getElementById('page');
const toXY = arr => arr.map(d => ({ x: d[0], y: d[1] }));

panels.forEach((p, idx) => {
  const row = Math.floor(idx / 3), col = idx % 3;
  const [cl, cr] = colCanvas[col], [fl, fr] = colFrame[col];
  const [ft, fb] = rowFrame[row];
  const cb = rowCanvas[row][1];
  const ct = rowCanvas[row][0] - (col === 0 && row > 0 ? labelOverhang : 0);
  const yMax = yMaxByRow[row];
  const cv = document.createElement('canvas');
  cv.width = cr - cl; cv.height = cb - ct;
  cv.style.left = cl + 'px'; cv.style.top = ct + 'px';
  cv.style.width = (cr - cl) + 'px'; cv.style.height = (cb - ct) + 'px';
  page.appendChild(cv);

  new Chart(cv.getContext('2d'), {
    type: 'scatter',
    data: {
      datasets: [
        { label: 'Data', data: toXY(p.data), showLine: false, pointRadius: MARKER_R,
          pointBackgroundColor: '#000', pointBorderWidth: 0, pointHoverRadius: MARKER_R },
        { label: 'BIC', data: toXY(p.bic), showLine: true, borderColor: RED, borderWidth: 1.5,
          pointRadius: 0, tension: 0 },
        { label: 'BERT', data: toXY(p.bert), showLine: true, borderColor: BLUE, borderWidth: 1.5,
          borderDash: [9, 6], pointRadius: 0, tension: 0 },
        { label: 'INCL', data: toXY(p.incl), showLine: true, borderColor: GREEN, borderWidth: 2,
          borderDash: [2, 5], pointRadius: 0, tension: 0 }
      ]
    },
    options: {
      responsive: false,
      animation: false,
      devicePixelRatio: 1,
      events: [],
      layout: { autoPadding: false, padding: { left: 0, top: ft - ct, right: cr - fr, bottom: 0 } },
      plugins: { legend: { display: false }, tooltip: { enabled: false } },
      scales: {
        x: {
          type: 'linear', position: 'bottom', min: eRange[0], max: eRange[1],
          grid: { display: false, drawTicks: false }, border: { display: false },
          ticks: { display: row === 2, stepSize: 5, autoSkip: false, maxRotation: 0, padding: 0 },
          afterFit: s => { s.height = cb - fb; s.paddingLeft = 0; s.paddingRight = 0; }
        },
        y: {
          type: 'linear', position: 'left', min: 0, max: yMax,
          grid: { display: false, drawTicks: false }, border: { display: false },
          ticks: { display: col === 0, autoSkip: false, padding: 6,
                   callback: v => (v === 0 && row < 2) ? '' : String(Math.round(v * 10) / 10) },
          afterBuildTicks: s => {
            const t = [];
            for (let k = 0; k * 0.5 <= yMax + 1e-9; k++) t.push({ value: k * 0.5 });
            s.ticks = t;
          },
          afterFit: s => { s.width = fl - cl; s.paddingTop = 0; s.paddingBottom = 0; }
        }
      }
    },
    plugins: [rootPad(idx, row, col, cl, ct, yMax)]
  });
});
</script>
</body>
</html>
